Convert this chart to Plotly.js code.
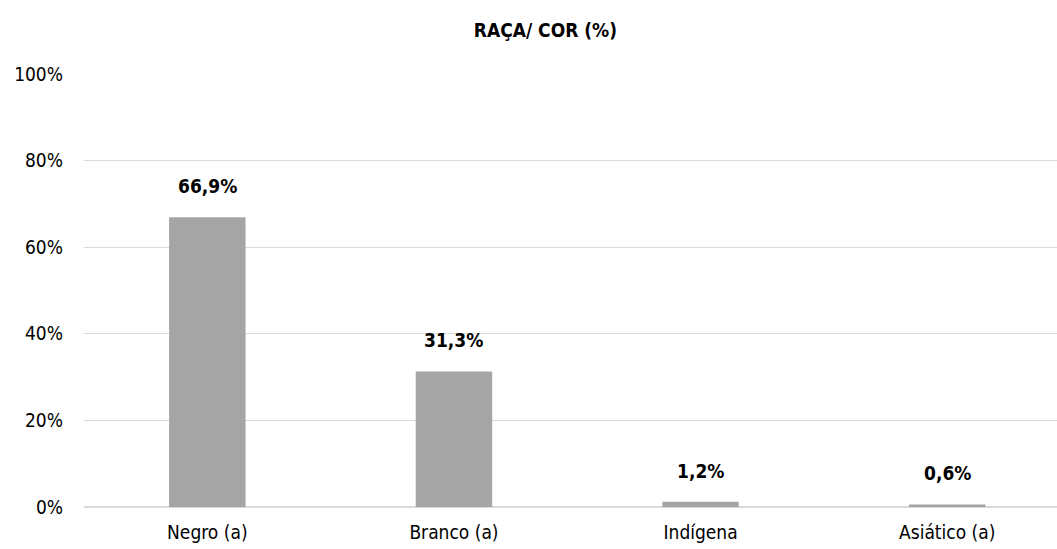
<!DOCTYPE html>
<html><head><meta charset="utf-8">
<script src="https://cdn.plot.ly/plotly-3.0.1.min.js"></script>
<style>body{margin:0;background:#fff}#chart{width:1057px;height:549px}</style>
</head><body><div id="chart"></div>
<script>
const categories = ["Negro (a)", "Branco (a)", "Indígena", "Asiático (a)"];
const values = [66.9, 31.3, 1.2, 0.6];
const yTickVals = [0, 20, 40, 60, 80, 100];
const yTickText = ["0%", "20%", "40%", "60%", "80%", "100%"];

const FONT = '"Liberation Sans Narrow", "DejaVu Sans Condensed", "Roboto", sans-serif';
const labels = values.map(v => v.toFixed(1).replace('.', ',') + '%');

const trace = {
  type: 'bar', x: [0,1,2,3], y: values, width: 0.31,
  marker: {color: '#a5a5a5'}, hoverinfo: 'skip'
};
const annotations = values.map((v, i) => ({
  x: i, y: v, xref: 'x', yref: 'y', text: '<b>' + labels[i] + '</b>',
  showarrow: false, yanchor: 'bottom', yshift: 18,
  font: {family: FONT, size: 19, color: '#000'}
}));

Plotly.newPlot('chart', [trace], {
  width: 1057, height: 549,
  margin: {l: 84, r: 0, t: 74, b: 42, pad: 0},
  paper_bgcolor: '#fff', plot_bgcolor: '#fff',
  showlegend: false,
  title: {text: '<b>RAÇA/ COR (%)</b>', xref: 'container', x: 0.516, xanchor: 'center', y: 0.945, yanchor: 'middle',
          font: {family: FONT, size: 19, color: '#000'}},
  xaxis: {range: [-0.5, 3.445], tickvals: [0,1,2,3], ticktext: categories,
          showgrid: false, zeroline: false, showline: false, ticks: '', ticklabelstandoff: 12,
          tickfont: {family: FONT, size: 19, color: '#000'}, fixedrange: true},
  yaxis: {range: [0, 100], tickvals: yTickVals, ticktext: yTickText,
          showgrid: true, gridcolor: '#d9d9d9', gridwidth: 1.3,
          zeroline: true, zerolinecolor: '#d9d9d9', zerolinewidth: 1.3,
          showline: false, ticks: '', ticklabelstandoff: 20,
          tickfont: {family: FONT, size: 19, color: '#000'}, fixedrange: true},
  annotations: annotations
}, {staticPlot: true});
</script></body></html>
